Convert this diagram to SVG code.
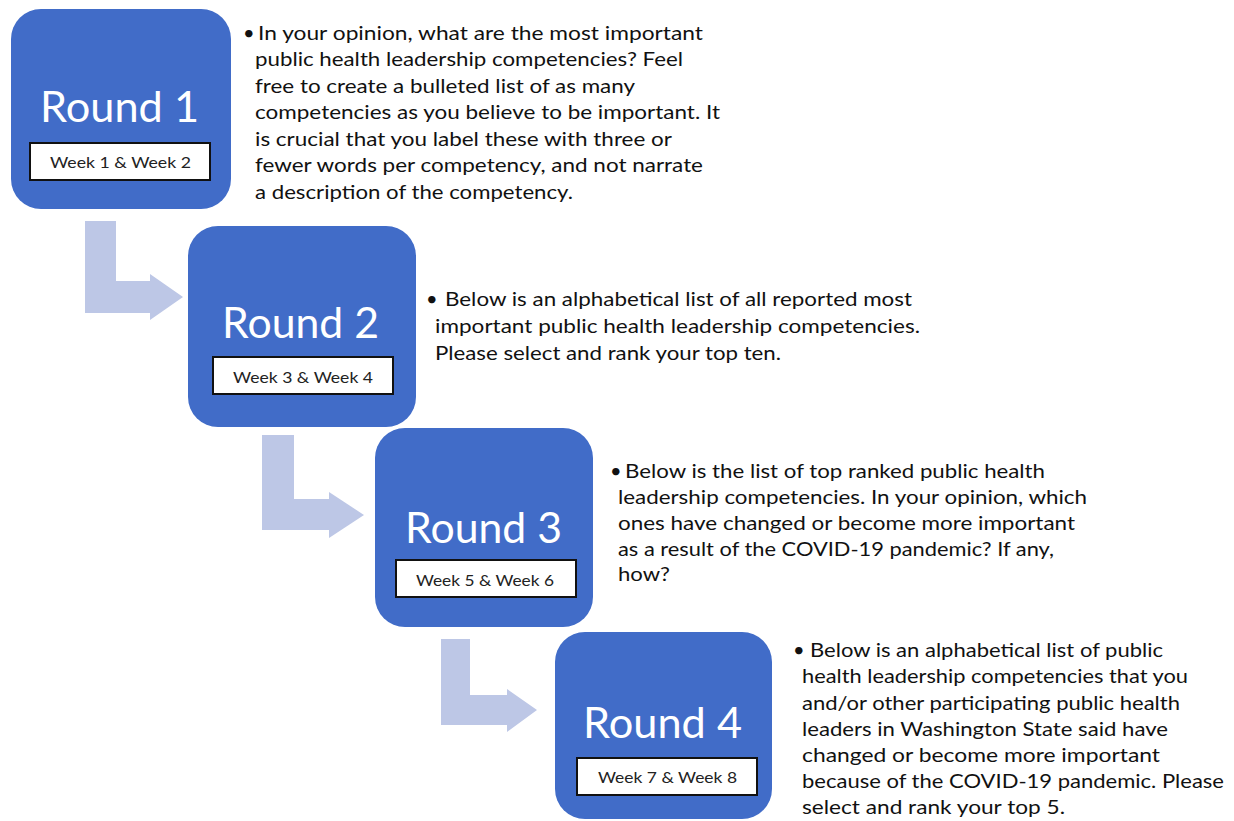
<svg xmlns="http://www.w3.org/2000/svg" width="1234" height="821" viewBox="0 0 1234 821">
<style>
.box{fill:#416CC8}
.wk{fill:#fff;stroke:#111;stroke-width:2}
.rnd{font-family:Lato,"Liberation Sans",sans-serif;font-size:43px;fill:#fff}
.wkt{font-family:Lato,"Liberation Sans",sans-serif;font-size:16px;fill:#222}
.t{font-family:Lato,"Liberation Sans",sans-serif;font-size:20px;fill:#111}
.arr{fill:#BDC7E6}
</style>
<rect width="1234" height="821" fill="#fff"/>
<g id="connectors">
<polygon class="arr" points="85,221 116,221 116,281 150,281 150,274 183,297 150,320 150,313 85,313"/>
<polygon class="arr" points="262,435 294,435 294,499 329,499 329,492 364,515 329,538 329,530 262,530"/>
<polygon class="arr" points="441,639 470,639 470,695 507,695 507,689 537,710 507,732 507,725 441,725"/>
</g>
<g id="round1">
<rect class="box" x="11" y="9" width="220" height="200" rx="30"/>
<text class="rnd" x="40" y="122" textLength="159" lengthAdjust="spacingAndGlyphs">Round 1</text>
<rect class="wk" x="30" y="143" width="180" height="37"/>
<text class="wkt" x="50" y="168" textLength="141" lengthAdjust="spacingAndGlyphs">Week 1 &amp; Week 2</text>
</g>
<g id="round2">
<rect class="box" x="188" y="226" width="228" height="201" rx="30"/>
<text class="rnd" x="222" y="338" textLength="157" lengthAdjust="spacingAndGlyphs">Round 2</text>
<rect class="wk" x="213" y="357" width="180" height="37"/>
<text class="wkt" x="233" y="383" textLength="140" lengthAdjust="spacingAndGlyphs">Week 3 &amp; Week 4</text>
</g>
<g id="round3">
<rect class="box" x="375" y="428" width="218" height="199" rx="30"/>
<text class="rnd" x="405" y="543" textLength="157" lengthAdjust="spacingAndGlyphs">Round 3</text>
<rect class="wk" x="396" y="560" width="180" height="37"/>
<text class="wkt" x="416" y="586" textLength="138" lengthAdjust="spacingAndGlyphs">Week 5 &amp; Week 6</text>
</g>
<g id="round4">
<rect class="box" x="555" y="632" width="217" height="187" rx="30"/>
<text class="rnd" x="583" y="738" textLength="159" lengthAdjust="spacingAndGlyphs">Round 4</text>
<rect class="wk" x="577" y="758" width="180" height="37"/>
<text class="wkt" x="598" y="783" textLength="139" lengthAdjust="spacingAndGlyphs">Week 7 &amp; Week 8</text>
</g>
<g id="desc1">
<text class="t" x="243" y="39.5">•</text>
<text class="t" x="258" y="39.5" textLength="445" lengthAdjust="spacingAndGlyphs">In your opinion, what are the most important</text>
<text class="t" x="255" y="66" textLength="428" lengthAdjust="spacingAndGlyphs">public health leadership competencies? Feel</text>
<text class="t" x="255" y="92.5" textLength="380" lengthAdjust="spacingAndGlyphs">free to create a bulleted list of as many</text>
<text class="t" x="255" y="119" textLength="465" lengthAdjust="spacingAndGlyphs">competencies as you believe to be important. It</text>
<text class="t" x="255" y="145.5" textLength="417" lengthAdjust="spacingAndGlyphs">is crucial that you label these with three or</text>
<text class="t" x="255" y="172" textLength="448" lengthAdjust="spacingAndGlyphs">fewer words per competency, and not narrate</text>
<text class="t" x="255" y="198.5" textLength="318" lengthAdjust="spacingAndGlyphs">a description of the competency.</text>
</g>
<g id="desc2">
<text class="t" x="426" y="306">•</text>
<text class="t" x="445" y="306" textLength="467" lengthAdjust="spacingAndGlyphs">Below is an alphabetical list of all reported most</text>
<text class="t" x="435" y="333" textLength="485" lengthAdjust="spacingAndGlyphs">important public health leadership competencies.</text>
<text class="t" x="435" y="360" textLength="346" lengthAdjust="spacingAndGlyphs">Please select and rank your top ten.</text>
</g>
<g id="desc3">
<text class="t" x="610" y="477.5">•</text>
<text class="t" x="625" y="477.5" textLength="420" lengthAdjust="spacingAndGlyphs">Below is the list of top ranked public health</text>
<text class="t" x="618" y="503.5" textLength="469" lengthAdjust="spacingAndGlyphs">leadership competencies. In your opinion, which</text>
<text class="t" x="618" y="529.5" textLength="457" lengthAdjust="spacingAndGlyphs">ones have changed or become more important</text>
<text class="t" x="618" y="555.5" textLength="436" lengthAdjust="spacingAndGlyphs">as a result of the COVID-19 pandemic? If any,</text>
<text class="t" x="618" y="581" textLength="52" lengthAdjust="spacingAndGlyphs">how?</text>
</g>
<g id="desc4">
<text class="t" x="793" y="657">•</text>
<text class="t" x="810" y="657" textLength="353" lengthAdjust="spacingAndGlyphs">Below is an alphabetical list of public</text>
<text class="t" x="802" y="683" textLength="386" lengthAdjust="spacingAndGlyphs">health leadership competencies that you</text>
<text class="t" x="802" y="709.5" textLength="378" lengthAdjust="spacingAndGlyphs">and/or other participating public health</text>
<text class="t" x="802" y="735.5" textLength="366" lengthAdjust="spacingAndGlyphs">leaders in Washington State said have</text>
<text class="t" x="802" y="761.5" textLength="358" lengthAdjust="spacingAndGlyphs">changed or become more important</text>
<text class="t" x="802" y="787.5" textLength="422" lengthAdjust="spacingAndGlyphs">because of the COVID-19 pandemic. Please</text>
<text class="t" x="802" y="814" textLength="263" lengthAdjust="spacingAndGlyphs">select and rank your top 5.</text>
</g>
</svg>
